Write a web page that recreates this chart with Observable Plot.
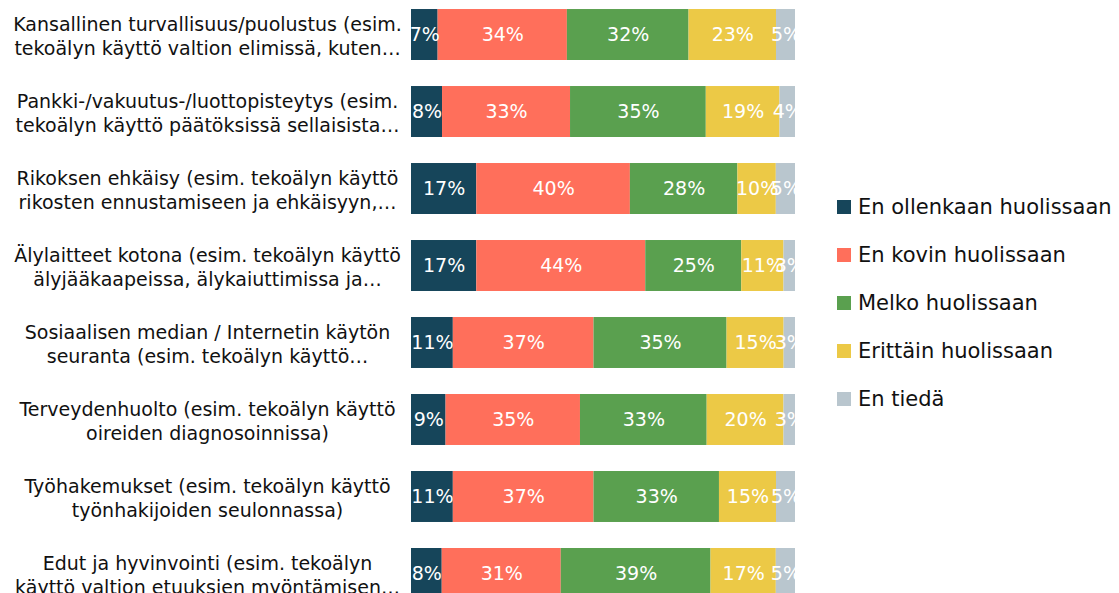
<!DOCTYPE html>
<html>
<head>
<meta charset="utf-8">
<script src="https://cdn.jsdelivr.net/npm/d3@7"></script>
<script src="https://cdn.jsdelivr.net/npm/@observablehq/plot@0.6"></script>
<style>
  html, body { margin: 0; padding: 0; background: #fff; }
  #wrap { position: relative; width: 1119px; height: 593px; overflow: hidden; font-family: "DejaVu Sans", sans-serif; }
  #legend { position: absolute; left: 837px; top: 183px; display: flex; flex-direction: column; }
  .item { display: flex; align-items: center; height: 48px; font-size: 21px; color: #111; white-space: nowrap; }
  .sw { width: 14px; height: 14px; margin-right: 7px; flex: none; }
</style>
</head>
<body>
<div id="wrap"><div id="legend"></div></div>
<script>
const categories = [
  "Kansallinen turvallisuus/puolustus (esim.\ntekoälyn käyttö valtion elimissä, kuten…",
  "Pankki-/vakuutus-/luottopisteytys (esim.\ntekoälyn käyttö päätöksissä sellaisista…",
  "Rikoksen ehkäisy (esim. tekoälyn käyttö\nrikosten ennustamiseen ja ehkäisyyn,…",
  "Älylaitteet kotona (esim. tekoälyn käyttö\nälyjääkaapeissa, älykaiuttimissa ja…",
  "Sosiaalisen median / Internetin käytön\nseuranta (esim. tekoälyn käyttö…",
  "Terveydenhuolto (esim. tekoälyn käyttö\noireiden diagnosoinnissa)",
  "Työhakemukset (esim. tekoälyn käyttö\ntyönhakijoiden seulonnassa)",
  "Edut ja hyvinvointi (esim. tekoälyn\nkäyttö valtion etuuksien myöntämisen…"
];
const series = ["En ollenkaan huolissaan", "En kovin huolissaan", "Melko huolissaan", "Erittäin huolissaan", "En tiedä"];
const colors = ["#16455A", "#FF6F5B", "#5AA04F", "#ECC946", "#B9C6CE"];

const enOllenkaan = [7, 8, 17, 17, 11, 9, 11, 8];
const enKovin     = [34, 33, 40, 44, 37, 35, 37, 31];
const melko       = [32, 35, 28, 25, 35, 33, 33, 39];
const erittain    = [23, 19, 10, 11, 15, 20, 15, 17];
const enTieda     = [5, 4, 5, 3, 3, 3, 5, 5];

const seriesValues = [enOllenkaan, enKovin, melko, erittain, enTieda];
const data = [];
categories.forEach((c, i) => {
  series.forEach((s, j) => data.push({cat: c, series: s, value: seriesValues[j][i]}));
});

const chart = Plot.plot({
  width: 1119,
  height: 593,
  marginLeft: 411,
  marginRight: 324,
  marginTop: -17,
  marginBottom: -32,
  style: {fontFamily: "DejaVu Sans, sans-serif", background: "white"},
  x: {domain: [0, 1], axis: null},
  y: {domain: categories, padding: 0.338, round: false, axis: null},
  color: {domain: series, range: colors},
  marks: [
    Plot.barX(data, {x: "value", y: "cat", fill: "series", offset: "normalize"}),
    Plot.text(data, Plot.stackX({
      x: "value", y: "cat", z: "series", offset: "normalize",
      text: d => d.value + "%", fill: "white", fontSize: 19, clip: true
    })),
    Plot.text(categories, {
      y: d => d, text: d => d, frameAnchor: "left", dx: -204,
      textAnchor: "middle", fontSize: 19, lineHeight: 1.3, fill: "#111"
    })
  ]
});
const wrap = document.getElementById("wrap");
wrap.insertBefore(chart, wrap.firstChild);

const legend = document.getElementById("legend");
series.forEach((s, i) => {
  const it = document.createElement("div");
  it.className = "item";
  const sw = document.createElement("span");
  sw.className = "sw";
  sw.style.background = colors[i];
  it.appendChild(sw);
  it.appendChild(document.createTextNode(s));
  legend.appendChild(it);
});
</script>
</body>
</html>
